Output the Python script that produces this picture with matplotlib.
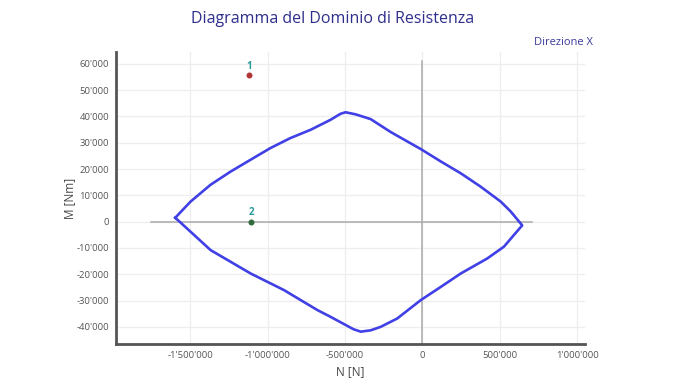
import matplotlib.pyplot as plt
from matplotlib.ticker import FuncFormatter, MultipleLocator

plt.rcParams['font.family'] = ['Open Sans', 'DejaVu Sans']

# Dominio di resistenza (N [N], M [Nm]) - ramo superiore poi ramo inferiore
N_dominio = [-1597000, -1499000, -1370000, -1241000, -1112000, -982000, -853000,
             -724000, -595000, -530000, -497000, -432000, -335000, -206000, -11000,
             118000, 247000, 376000, 506000, 571000, 644000,
             526000, 418000, 247000, 118000, -11000, -163000, -271000, -335000,
             -399000, -445000, -486000, -593000, -679000, -895000, -1110000,
             -1369000, -1597000]
M_dominio = [1500, 7600, 14000, 19000, 23500, 28000, 31800,
             34900, 38700, 41000, 41600, 40800, 39000, 34100, 27600,
             22900, 18400, 13300, 7600, 3800, -1400,
             -9500, -14000, -19700, -24800, -29800, -36800, -40000, -41300,
             -41800, -40900, -39600, -36200, -33600, -26000, -19700,
             -10800, 1500]

# Punti di verifica
N_punti = [-1120000, -1105000]
M_punti = [55700, 0]
etichette = ['1', '2']
colori_punti = ['#b03535', '#2f6a3a']


def fmt(v, pos):
    return f"{int(round(v)):,}".replace(",", "'")


fig = plt.figure(figsize=(6.93, 3.83), dpi=100)
ax = fig.add_axes([0.1674, 0.1018, 0.6768, 0.7624])

ax.set_xlim(-1980000, 1050000)
ax.set_ylim(-46500, 64500)

# griglia leggera
ax.xaxis.set_major_locator(MultipleLocator(500000))
ax.yaxis.set_major_locator(MultipleLocator(10000))
ax.grid(True, color='#eeeeee', linewidth=0.9)
ax.set_axisbelow(True)

# assi per lo zero
ax.plot([-1755000, 710000], [0, 0], color='#aaaaaa', linewidth=1.1, zorder=1)
ax.plot([0, 0], [-46500, 61000], color='#aaaaaa', linewidth=1.1, zorder=1)

ax.plot(N_dominio, M_dominio, color='#4040e6', linewidth=1.9, zorder=3)

for n, m, t, c in zip(N_punti, M_punti, etichette, colori_punti):
    ax.plot(n, m, 'o', color=c, markersize=3.3, zorder=4)
    ax.text(n, m + 1300, t, color='#2a9a9a', fontsize=7, ha='center', va='bottom',
            fontweight='bold', zorder=4)

ax.xaxis.set_major_formatter(FuncFormatter(fmt))
ax.yaxis.set_major_formatter(FuncFormatter(fmt))
ax.tick_params(length=0, labelsize=6.8, labelcolor='#555555', pad=5)

for s in ['top', 'right']:
    ax.spines[s].set_visible(False)
for s in ['left', 'bottom']:
    ax.spines[s].set_color('#555555')
    ax.spines[s].set_linewidth(2)

ax.set_xlabel('N [N]', fontsize=8.5, color='#444444', labelpad=4)
ax.set_ylabel('M [Nm]', fontsize=8.5, color='#444444', labelpad=0)

fig.text(0.48, 0.95, 'Diagramma del Dominio di Resistenza', fontsize=11.5,
         color='#2e2e8c', ha='center', va='center')
fig.text(0.855, 0.89, 'Direzione X', fontsize=8, color='#3a3a9a',
         ha='right', va='center')

fig.savefig('out.png', dpi=100)
